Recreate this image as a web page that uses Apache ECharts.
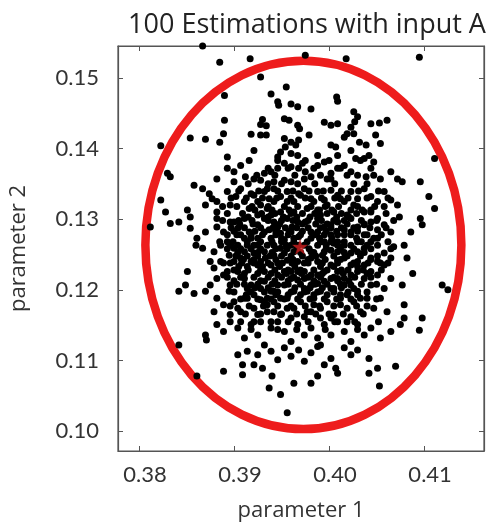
<!DOCTYPE html>
<html lang="en">
<head>
    <meta charset="UTF-8">
    <title>100 Estimations with input A</title>
    <style>
        body{
            background-color: #ffffff;
            margin: 0;
        }
    </style>
    <script src="https://cdn.jsdelivr.net/npm/echarts@6/dist/echarts.min.js"></script>
</head>
<body>
<div id="chart" style="width: 487px;height:527px;"></div>
<script type="text/javascript">
    // axis ranges and ticks
    var xRange = [0.3778, 0.4163];
    var yRange = [0.0972, 0.1545];
    var xTicks = [0.38, 0.39, 0.40, 0.41];
    var yTicks = [0.10, 0.11, 0.12, 0.13, 0.14, 0.15];

    // confidence ellipse: center and half-axes (parameter 1, parameter 2)
    var ellipseCenter = [0.3973, 0.12635];
    var ellipseRadii = [0.01662, 0.02605];
    // mean estimate (red star)
    var meanPoint = [0.39695, 0.1261];

    // estimations, top to bottom
    var pointsTop = [
        [0.3867,0.1545],[0.3885,0.1522],[0.3917,0.1527],[0.3975,0.1532],[0.4018,0.1527],[0.4095,0.1529],
        [0.3928,0.1501],[0.3890,0.1475],[0.3955,0.1487],[0.3939,0.1477],[0.3946,0.1466],[0.3947,0.1461],
        [0.3960,0.1463],[0.3967,0.1459],[0.3981,0.1456],[0.4008,0.1473],[0.4009,0.1467],[0.3953,0.1442],
        [0.3958,0.1440],[0.3967,0.1433],[0.3969,0.1428],[0.3930,0.1441],[0.3928,0.1434],[0.3934,0.1432],
        [0.3890,0.1440],[0.3995,0.1437],[0.4002,0.1433],[0.4009,0.1435],[0.4026,0.1452],[0.4030,0.1445],
        [0.4027,0.1438],[0.4023,0.1430],[0.4044,0.1435],[0.4053,0.1436],[0.4061,0.1440],
        [0.3854,0.1415],[0.3870,0.1413],[0.3885,0.1409],[0.3889,0.1421],[0.3823,0.1404],[0.3918,0.1420],
        [0.3928,0.1419],[0.3934,0.1419],[0.3953,0.1414],[0.3960,0.1409],[0.3965,0.1405],[0.3968,0.1412],
        [0.3954,0.1402],[0.3949,0.1395],[0.3960,0.1393],[0.3967,0.1390],[0.3946,0.1388],[0.3979,0.1419],
        [0.3988,0.1390],[0.4002,0.1405],[0.4007,0.1402],[0.4016,0.1416],[0.4019,0.1421],[0.4026,0.1421],
        [0.4032,0.1409],[0.4039,0.1405],[0.4049,0.1419],[0.4054,0.1407],[0.4009,0.1390],[0.4023,0.1397],
        [0.4028,0.1386],[0.4037,0.1386],[0.4042,0.1390],[0.4047,0.1381],[0.4111,0.1386],[0.3921,0.1397],
        [0.3893,0.1388]
    ];
    var pointsUpper = [
        [0.3830,0.1365],[0.3833,0.1360],[0.3858,0.1348],[0.3867,0.1343],[0.3893,0.1372],[0.3900,0.1367],
        [0.3907,0.1376],[0.3912,0.1360],[0.3921,0.1357],[0.3928,0.1355],[0.3932,0.1365],[0.3939,0.1367],
        [0.3946,0.1372],[0.3953,0.1379],[0.3960,0.1374],[0.3968,0.1372],[0.3975,0.1367],[0.3981,0.1360],
        [0.3988,0.1376],[0.3995,0.1381],[0.4002,0.1365],[0.4009,0.1372],[0.4016,0.1376],[0.4023,0.1367],
        [0.4030,0.1362],[0.4039,0.1360],[0.4044,0.1372],[0.4054,0.1357],[0.4065,0.1367],[0.4072,0.1357],
        [0.4077,0.1353],[0.4096,0.1353],[0.3916,0.1383],[0.3972,0.1379],[0.3998,0.1357],[0.3953,0.1355],
        [0.3900,0.1353],[0.3882,0.1357],
        [0.3823,0.1327],[0.3828,0.1310],[0.3851,0.1313],[0.3874,0.1336],[0.3877,0.1329],[0.3882,0.1325],
        [0.3888,0.1318],[0.3896,0.1320],[0.3893,0.1339],[0.3902,0.1332],[0.3907,0.1343],[0.3911,0.1325],
        [0.3918,0.1336],[0.3925,0.1325],[0.3932,0.1339],[0.3937,0.1329],[0.3942,0.1343],[0.3949,0.1332],
        [0.3956,0.1339],[0.3963,0.1325],[0.3968,0.1336],[0.3974,0.1343],[0.3981,0.1329],[0.3988,0.1339],
        [0.3995,0.1327],[0.4002,0.1341],[0.4009,0.1334],[0.4016,0.1325],[0.4023,0.1339],[0.4030,0.1329],
        [0.4037,0.1343],[0.4044,0.1332],[0.4051,0.1325],[0.4058,0.1339],[0.4065,0.1327],[0.4072,0.1320],
        [0.4105,0.1332],[0.4111,0.1315],[0.3916,0.1315],[0.3935,0.1315],[0.3988,0.1313],[0.4023,0.1313],
        [0.4044,0.1313],[0.3882,0.1310],[0.3870,0.1320]
    ];
    var pointsMiddle = [
        [0.3833,0.1294],[0.3842,0.1296],[0.3812,0.1289],[0.3854,0.1303],[0.3854,0.1287],[0.3882,0.1301],
        [0.3882,0.1289],[0.3889,0.1282],[0.3896,0.1296],[0.3904,0.1287],[0.3911,0.1301],[0.3916,0.1282],
        [0.3925,0.1292],[0.3932,0.1301],[0.3937,0.1285],[0.3942,0.1296],[0.3949,0.1280],[0.3956,0.1301],
        [0.3961,0.1289],[0.3968,0.1275],[0.3975,0.1296],[0.3981,0.1282],[0.3988,0.1301],[0.3995,0.1289],
        [0.4002,0.1278],[0.4009,0.1296],[0.4016,0.1285],[0.4023,0.1301],[0.4030,0.1289],[0.4037,0.1278],
        [0.4044,0.1296],[0.4051,0.1285],[0.4058,0.1292],[0.4065,0.1282],[0.4074,0.1303],[0.4086,0.1282],
        [0.4096,0.1301],[0.4098,0.1292],[0.3870,0.1282],[0.3861,0.1273],
        [0.3860,0.1263],[0.3867,0.1259],[0.3879,0.1254],[0.3886,0.1263],[0.3895,0.1249],[0.3900,0.1259],
        [0.3907,0.1245],[0.3914,0.1263],[0.3921,0.1252],[0.3928,0.1240],[0.3935,0.1263],[0.3942,0.1249],
        [0.3949,0.1259],[0.3956,0.1242],[0.3963,0.1254],[0.3981,0.1245],[0.3988,0.1263],[0.3993,0.1249],
        [0.4002,0.1256],[0.4009,0.1242],[0.4016,0.1263],[0.4023,0.1252],[0.4030,0.1240],[0.4037,0.1259],
        [0.4044,0.1245],[0.4051,0.1263],[0.4058,0.1252],[0.4068,0.1261],[0.4079,0.1263],[0.4082,0.1245],
        [0.3875,0.1240],[0.3889,0.1238],[0.3933,0.1245],[0.3974,0.1238],[0.4005,0.1266],[0.4054,0.1238],
        [0.3851,0.1226],[0.3842,0.1198],[0.3849,0.1207],[0.3858,0.1195],[0.3870,0.1198],[0.3879,0.1231],
        [0.3882,0.1216],[0.3889,0.1221],[0.3896,0.1207],[0.3904,0.1226],[0.3911,0.1216],[0.3918,0.1207],
        [0.3925,0.1223],[0.3932,0.1212],[0.3939,0.1198],[0.3946,0.1221],[0.3953,0.1207],[0.3960,0.1226],
        [0.3967,0.1214],[0.3974,0.1202],[0.3981,0.1221],[0.3988,0.1209],[0.3995,0.1226],[0.4002,0.1202],
        [0.4009,0.1216],[0.4016,0.1207],[0.4023,0.1221],[0.4030,0.1198],[0.4037,0.1216],[0.4044,0.1207],
        [0.4051,0.1221],[0.4058,0.1202],[0.4065,0.1216],[0.4077,0.1207],[0.4088,0.1223],[0.4119,0.1207],
        [0.4125,0.1200],[0.3895,0.1198],[0.3875,0.1207]
    ];
    var pointsLower = [
        [0.3882,0.1188],[0.3889,0.1179],[0.3900,0.1183],[0.3907,0.1169],[0.3914,0.1188],[0.3921,0.1174],
        [0.3928,0.1186],[0.3935,0.1169],[0.3942,0.1183],[0.3949,0.1165],[0.3956,0.1188],[0.3963,0.1174],
        [0.3970,0.1183],[0.3977,0.1169],[0.3984,0.1188],[0.3991,0.1174],[0.3998,0.1183],[0.4005,0.1165],
        [0.4012,0.1188],[0.4019,0.1174],[0.4026,0.1183],[0.4033,0.1169],[0.4040,0.1188],[0.4047,0.1174],
        [0.4054,0.1188],[0.4061,0.1169],[0.4079,0.1179],[0.4098,0.1160],[0.4079,0.1160],[0.3896,0.1165],
        [0.3879,0.1169],[0.3935,0.1188],[0.3974,0.1162],[0.4023,0.1162],
        [0.3870,0.1136],[0.3871,0.1129],[0.3842,0.1122],[0.3882,0.1151],[0.3889,0.1141],[0.3896,0.1155],
        [0.3904,0.1146],[0.3911,0.1132],[0.3918,0.1151],[0.3925,0.1136],[0.3932,0.1122],[0.3939,0.1146],
        [0.3946,0.1155],[0.3953,0.1141],[0.3960,0.1127],[0.3967,0.1151],[0.3974,0.1136],[0.3981,0.1146],
        [0.3988,0.1132],[0.3995,0.1151],[0.4002,0.1136],[0.4009,0.1155],[0.4016,0.1141],[0.4023,0.1127],
        [0.4030,0.1151],[0.4037,0.1136],[0.4044,0.1146],[0.4054,0.1132],[0.4065,0.1141],[0.4095,0.1143],
        [0.4075,0.1151],[0.3928,0.1155],[0.3991,0.1122],
        [0.3889,0.1085],[0.3909,0.1094],[0.3921,0.1094],[0.3930,0.1089],[0.3914,0.1113],[0.3925,0.1108],
        [0.3939,0.1113],[0.3946,0.1101],[0.3953,0.1118],[0.3960,0.1106],[0.3968,0.1115],[0.3974,0.1099],
        [0.3981,0.1111],[0.3988,0.1120],[0.4002,0.1103],[0.4007,0.1089],[0.3995,0.1094],[0.4016,0.1118],
        [0.4023,0.1108],[0.4030,0.1115],[0.4051,0.1089],[0.4070,0.1092],[0.4042,0.1103],[0.3904,0.1108],
        [0.3861,0.1078],[0.3909,0.1080],[0.3940,0.1078],[0.3937,0.1061],[0.3949,0.1052],[0.3963,0.1068],
        [0.3956,0.1026],[0.3981,0.1068],[0.3988,0.1078],[0.4009,0.1082],[0.4053,0.1064],[0.4042,0.1082]
    ];
    var pointsCore = [
        [0.3921,0.1334],[0.3928,0.1320],[0.3935,0.1343],[0.3942,0.1325],[0.3949,0.1310],[0.3956,0.1325],
        [0.3963,0.1310],[0.3970,0.1334],[0.3977,0.1315],[0.3984,0.1325],[0.3991,0.1306],[0.3998,0.1320],
        [0.4005,0.1310],[0.4012,0.1329],[0.4019,0.1306],[0.4026,0.1320],[0.3925,0.1306],[0.3932,0.1282],
        [0.3939,0.1306],[0.3946,0.1289],[0.3953,0.1271],[0.3960,0.1282],[0.3967,0.1296],[0.3974,0.1263],
        [0.3981,0.1273],[0.3988,0.1282],[0.3995,0.1268],[0.4002,0.1292],[0.4009,0.1268],[0.4016,0.1278],
        [0.4023,0.1282],[0.4030,0.1268],[0.4037,0.1292],[0.3918,0.1273],[0.3925,0.1263],[0.3932,0.1254],
        [0.3939,0.1273],[0.3946,0.1238],[0.3953,0.1252],[0.3960,0.1263],[0.3967,0.1240],[0.3974,0.1226],
        [0.3981,0.1254],[0.3988,0.1240],[0.3995,0.1254],[0.4002,0.1235],[0.4009,0.1254],[0.4016,0.1245],
        [0.4023,0.1235],[0.4030,0.1254],[0.4037,0.1235],[0.3918,0.1240],[0.3925,0.1235],[0.3932,0.1226],
        [0.3939,0.1235],[0.3946,0.1207],[0.3953,0.1226],[0.3960,0.1216],[0.3967,0.1226],[0.3974,0.1216],
        [0.3981,0.1207],[0.3988,0.1221],[0.3995,0.1212],[0.4002,0.1216],[0.4009,0.1226],[0.4016,0.1216],
        [0.4023,0.1207],[0.4030,0.1226],[0.4044,0.1226],[0.3914,0.1202],[0.3921,0.1193],[0.3928,0.1202],
        [0.3935,0.1179],[0.3942,0.1198],[0.3949,0.1188],[0.3956,0.1174],[0.3963,0.1198],[0.3970,0.1193],
        [0.3977,0.1198],[0.3984,0.1179],[0.3991,0.1198],[0.3998,0.1193],[0.4005,0.1202],[0.4012,0.1179],
        [0.4019,0.1193],[0.4026,0.1202],[0.4033,0.1188],[0.3911,0.1254],[0.3904,0.1263],[0.3900,0.1240],
        [0.3907,0.1278],[0.3900,0.1296],[0.3893,0.1268],[0.3893,0.1226],[0.3886,0.1240],[0.4044,0.1268],
        [0.4051,0.1273],[0.4051,0.1240],[0.4058,0.1235],[0.4065,0.1245],[0.4044,0.1310],[0.4051,0.1301],
        [0.4037,0.1310],[0.4002,0.1357],[0.3974,0.1357],[0.3960,0.1353],[0.3942,0.1353],[0.3932,0.1183],
        [0.3942,0.1169],[0.3960,0.1160],[0.3981,0.1169],[0.4002,0.1160],[0.3991,0.1160],[0.4019,0.1155],
        [0.3925,0.1165],[0.3911,0.1188],[0.3904,0.1174]
    ];
    var pointsDense = [
        [0.3946,0.1383],[0.3975,0.1383],[0.4000,0.1383],[0.4033,0.1383],
        [0.3936,0.1372],[0.3957,0.1372],[0.3984,0.1372],[0.4012,0.1372],
        [0.3924,0.1362],[0.3943,0.1362],[0.3964,0.1362],[0.3991,0.1362],[0.4019,0.1362],[0.4047,0.1362],
        [0.3915,0.1350],[0.3936,0.1350],[0.3950,0.1350],[0.3967,0.1350],[0.3985,0.1350],[0.4006,0.1350],
        [0.4026,0.1350],[0.4040,0.1350],
        [0.3905,0.1340],[0.3926,0.1340],[0.3946,0.1340],[0.3962,0.1340],[0.3979,0.1340],[0.3994,0.1340],
        [0.4013,0.1340],[0.4031,0.1340],[0.4052,0.1340],
        [0.3897,0.1330],[0.3913,0.1330],[0.3930,0.1330],[0.3945,0.1330],[0.3960,0.1330],[0.3975,0.1330],
        [0.3992,0.1330],[0.4006,0.1330],[0.4020,0.1330],[0.4040,0.1330],[0.4062,0.1330],
        [0.3903,0.1318],[0.3919,0.1318],[0.3936,0.1318],[0.3953,0.1318],[0.3967,0.1318],[0.3981,0.1318],
        [0.3996,0.1318],[0.4010,0.1318],[0.4030,0.1318],[0.4048,0.1318],[0.4058,0.1318],
        [0.3893,0.1308],[0.3909,0.1308],[0.3929,0.1308],[0.3943,0.1308],[0.3960,0.1308],[0.3972,0.1308],
        [0.3985,0.1308],[0.3998,0.1308],[0.4013,0.1308],[0.4029,0.1308],[0.4060,0.1308],
        [0.3888,0.1298],[0.3905,0.1298],[0.3919,0.1298],[0.3936,0.1298],[0.3950,0.1298],[0.3962,0.1298],
        [0.3978,0.1298],[0.3992,0.1298],[0.4005,0.1298],[0.4016,0.1298],[0.4034,0.1298],[0.4050,0.1298],
        [0.4068,0.1298],
        [0.3897,0.1288],[0.3911,0.1288],[0.3928,0.1288],[0.3941,0.1288],[0.3954,0.1288],[0.3966,0.1288],
        [0.3978,0.1288],[0.3991,0.1288],[0.4002,0.1288],[0.4013,0.1288],[0.4026,0.1288],[0.4043,0.1288],
        [0.4060,0.1288],
        [0.3893,0.1278],[0.3903,0.1278],[0.3918,0.1278],[0.3930,0.1278],[0.3944,0.1278],[0.3957,0.1278],
        [0.3970,0.1278],[0.3985,0.1278],[0.3995,0.1278],[0.4009,0.1278],[0.4023,0.1278],[0.4040,0.1278],
        [0.4055,0.1278],
        [0.3885,0.1268],[0.3899,0.1268],[0.3914,0.1268],[0.3928,0.1268],[0.3940,0.1268],[0.3950,0.1268],
        [0.3963,0.1268],[0.3977,0.1268],[0.3991,0.1268],[0.4002,0.1268],[0.4016,0.1268],[0.4034,0.1268],
        [0.4062,0.1268],
        [0.3893,0.1258],[0.3907,0.1258],[0.3918,0.1258],[0.3928,0.1258],[0.3944,0.1258],[0.3956,0.1258],
        [0.3966,0.1258],[0.3979,0.1258],[0.3997,0.1258],[0.4012,0.1258],[0.4026,0.1258],[0.4044,0.1258],
        [0.4065,0.1258],
        [0.3902,0.1248],[0.3914,0.1248],[0.3925,0.1248],[0.3938,0.1248],[0.3950,0.1248],[0.3960,0.1248],
        [0.3972,0.1248],[0.3986,0.1248],[0.4005,0.1248],[0.4019,0.1248],[0.4033,0.1248],[0.4051,0.1248],
        [0.3896,0.1238],[0.3908,0.1238],[0.3921,0.1238],[0.3936,0.1238],[0.3951,0.1238],[0.3961,0.1238],
        [0.3978,0.1238],[0.3993,0.1238],[0.4009,0.1238],[0.4026,0.1238],[0.4041,0.1238],[0.4062,0.1238],
        [0.3900,0.1228],[0.3915,0.1228],[0.3928,0.1228],[0.3943,0.1228],[0.3957,0.1228],[0.3970,0.1228],
        [0.3984,0.1228],[0.3998,0.1228],[0.4013,0.1228],[0.4020,0.1228],[0.4036,0.1228],[0.4055,0.1228],
        [0.3893,0.1218],[0.3907,0.1218],[0.3921,0.1218],[0.3936,0.1218],[0.3950,0.1218],[0.3963,0.1218],
        [0.3978,0.1218],[0.3991,0.1218],[0.4005,0.1218],[0.4027,0.1218],[0.4044,0.1218],
        [0.3903,0.1208],[0.3911,0.1208],[0.3925,0.1208],[0.3940,0.1208],[0.3957,0.1208],[0.3970,0.1208],
        [0.3985,0.1208],[0.3998,0.1208],[0.4012,0.1208],[0.4034,0.1208],[0.4050,0.1208],
        [0.3900,0.1197],[0.3918,0.1197],[0.3932,0.1197],[0.3946,0.1197],[0.3960,0.1197],[0.3974,0.1197],
        [0.3988,0.1197],[0.4005,0.1197],[0.4020,0.1197],[0.4040,0.1197],
        [0.3907,0.1187],[0.3925,0.1187],[0.3939,0.1187],[0.3953,0.1187],[0.3967,0.1187],[0.3980,0.1187],
        [0.3995,0.1187],[0.4008,0.1187],[0.4023,0.1187],[0.4050,0.1187],
        [0.3896,0.1177],[0.3916,0.1177],[0.3931,0.1177],[0.3946,0.1177],[0.3960,0.1177],[0.3975,0.1177],
        [0.3990,0.1177],[0.4005,0.1177],[0.4029,0.1177],[0.4040,0.1177],
        [0.3912,0.1166],[0.3928,0.1166],[0.3950,0.1166],[0.3966,0.1166],[0.3986,0.1166],[0.4000,0.1166],
        [0.4015,0.1166],[0.4036,0.1166],
        [0.3907,0.1155],[0.3921,0.1155],[0.3939,0.1155],[0.3957,0.1155],[0.3978,0.1155],[0.4006,0.1155],
        [0.4027,0.1155],[0.4052,0.1155],
        [0.3918,0.1144],[0.3946,0.1144],[0.3966,0.1144],[0.3996,0.1144],[0.4030,0.1144]
    ];
    var pointsInner = [
        [0.3922,0.1313],[0.3940,0.1313],[0.3958,0.1313],[0.3990,0.1313],[0.4003,0.1313],[0.4035,0.1313],
        [0.3915,0.1303],[0.3936,0.1303],[0.3952,0.1303],[0.3966,0.1303],[0.3980,0.1303],[0.4008,0.1303],
        [0.4021,0.1303],
        [0.3906,0.1293],[0.3920,0.1293],[0.3948,0.1293],[0.3972,0.1293],[0.3986,0.1293],[0.3998,0.1293],
        [0.4019,0.1293],[0.4037,0.1293],
        [0.3900,0.1283],[0.3922,0.1283],[0.3944,0.1283],[0.3958,0.1283],[0.3972,0.1283],[0.3997,0.1283],
        [0.4008,0.1283],[0.4030,0.1283],
        [0.3911,0.1273],[0.3925,0.1273],[0.3950,0.1273],[0.3963,0.1273],[0.3990,0.1273],[0.4003,0.1273],
        [0.4029,0.1273],[0.4047,0.1273],
        [0.3896,0.1263],[0.3921,0.1263],[0.3942,0.1263],[0.3955,0.1263],[0.3968,0.1263],[0.3997,0.1263],
        [0.4009,0.1263],[0.4023,0.1263],[0.4040,0.1263],
        [0.3904,0.1253],[0.3925,0.1253],[0.3940,0.1253],[0.3970,0.1253],[0.3984,0.1253],[0.4016,0.1253],
        [0.4037,0.1253],
        [0.3910,0.1243],[0.3921,0.1243],[0.3944,0.1243],[0.3962,0.1243],[0.3978,0.1243],[0.3996,0.1243],
        [0.4012,0.1243],[0.4044,0.1243],
        [0.3905,0.1233],[0.3914,0.1233],[0.3930,0.1233],[0.3948,0.1233],[0.3964,0.1233],[0.3991,0.1233],
        [0.4005,0.1233],[0.4030,0.1233],
        [0.3911,0.1223],[0.3939,0.1223],[0.3955,0.1223],[0.3971,0.1223],[0.3993,0.1223],[0.4015,0.1223],
        [0.4040,0.1223],
        [0.3900,0.1213],[0.3928,0.1213],[0.3943,0.1213],[0.3957,0.1213],[0.3984,0.1213],[0.4009,0.1213],
        [0.4021,0.1213],
        [0.3922,0.1203],[0.3936,0.1203],[0.3964,0.1203],[0.3980,0.1203],[0.3993,0.1203],[0.4013,0.1203],
        [0.3913,0.1193],[0.3944,0.1193],[0.3957,0.1193],[0.3984,0.1193],[0.4012,0.1193],[0.4030,0.1193]
    ];

    var allPoints = pointsTop.concat(pointsUpper, pointsMiddle, pointsLower, pointsCore, pointsDense, pointsInner);

    var axisColor = '#555555';
    var labelFont = 'Lato, "Open Sans", sans-serif';
    var titleFont = '"Open Sans", Lato, sans-serif';
    var starPath = 'path://M50,0 L61,35 L98,35 L68,57 L79,91 L50,70 L21,91 L32,57 L2,35 L39,35 Z';

    var option = {
        animation: false,
        backgroundColor: '#ffffff',
        title: {
            text: '100 Estimations with input A',
            left: 302,
            top: 7,
            textAlign: 'center',
            textStyle: {fontFamily: titleFont, fontSize: 27, fontWeight: 'normal', color: '#222222'}
        },
        grid: {
            left: 117, right: 3, top: 46, bottom: 74,
            show: true, borderColor: axisColor, borderWidth: 1.2
        },
        xAxis: [{
            type: 'value', position: 'bottom',
            min: xRange[0], max: xRange[1],
            name: 'parameter 1', nameLocation: 'middle', nameGap: 49,
            nameTextStyle: {fontFamily: titleFont, fontSize: 22, color: '#333333'},
            splitLine: {show: false},
            axisLine: {show: true, lineStyle: {color: axisColor, width: 1.2}},
            axisTick: {show: true, inside: true, length: 5, customValues: xTicks, lineStyle: {color: axisColor}},
            axisLabel: {customValues: xTicks, margin: 13, padding: [0, 0, 0, 12],
                fontFamily: labelFont, fontSize: 22, color: '#333333',
                formatter: function (v) { return v.toFixed(2); }}
        }, {
            type: 'value', position: 'top',
            min: xRange[0], max: xRange[1],
            splitLine: {show: false},
            axisLine: {show: true, lineStyle: {color: axisColor, width: 1.2}},
            axisTick: {show: true, inside: true, length: 5, customValues: xTicks, lineStyle: {color: axisColor}},
            axisLabel: {show: false}
        }],
        yAxis: [{
            type: 'value', position: 'left',
            min: yRange[0], max: yRange[1],
            name: 'parameter 2', nameLocation: 'middle', nameGap: 88,
            nameTextStyle: {fontFamily: titleFont, fontSize: 22, color: '#333333'},
            splitLine: {show: false},
            axisLine: {show: true, lineStyle: {color: axisColor, width: 1.2}},
            axisTick: {show: true, inside: true, length: 5, customValues: yTicks, lineStyle: {color: axisColor}},
            axisLabel: {customValues: yTicks, margin: 19, fontFamily: labelFont, fontSize: 22, color: '#333333',
                formatter: function (v) { return v.toFixed(2); }}
        }, {
            type: 'value', position: 'right',
            min: yRange[0], max: yRange[1],
            splitLine: {show: false},
            axisLine: {show: true, lineStyle: {color: axisColor, width: 1.2}},
            axisTick: {show: true, inside: true, length: 5, customValues: yTicks, lineStyle: {color: axisColor}},
            axisLabel: {show: false}
        }],
        series: [{
            name: 'ellipse',
            type: 'custom',
            xAxisIndex: 0, yAxisIndex: 0,
            data: [[ellipseCenter[0], ellipseCenter[1]]],
            z: 1,
            renderItem: function (params, api) {
                var c = api.coord(ellipseCenter);
                var e = api.coord([ellipseCenter[0] + ellipseRadii[0], ellipseCenter[1] + ellipseRadii[1]]);
                return {
                    type: 'ellipse',
                    shape: {cx: c[0], cy: c[1], rx: e[0] - c[0], ry: c[1] - e[1]},
                    style: {fill: 'none', stroke: '#ee1c1c', lineWidth: 8.5}
                };
            }
        }, {
            name: 'estimations',
            type: 'scatter',
            xAxisIndex: 0, yAxisIndex: 0,
            symbolSize: 7,
            itemStyle: {color: '#000000', opacity: 1},
            data: allPoints,
            z: 2
        }, {
            name: 'mean',
            type: 'scatter',
            xAxisIndex: 0, yAxisIndex: 0,
            symbol: starPath,
            symbolSize: 15,
            itemStyle: {color: '#d42020', borderColor: '#8a1010', borderWidth: 0.5},
            data: [meanPoint],
            z: 3
        }]
    };

    var chart = echarts.init(document.getElementById('chart'));
    chart.setOption(option);
</script>
</body>
</html>
